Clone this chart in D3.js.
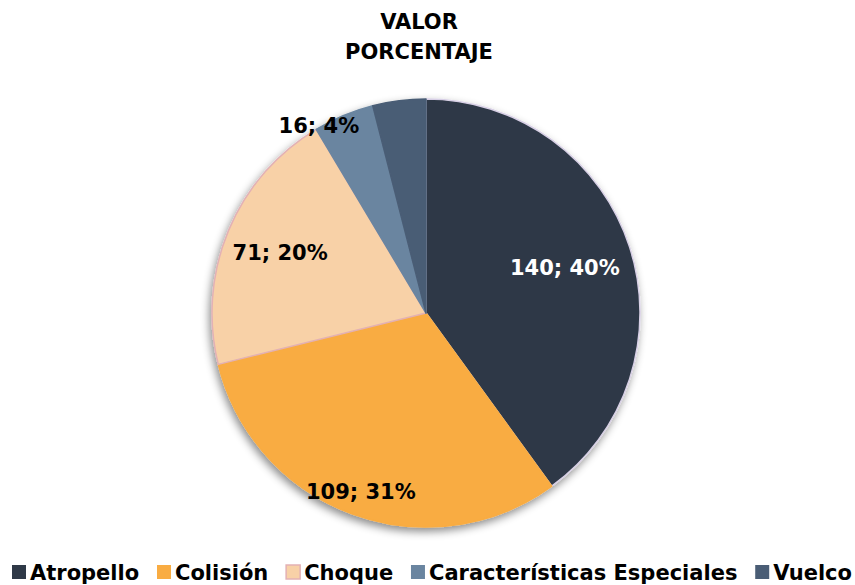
<!DOCTYPE html>
<html>
<head>
<meta charset="utf-8">
<script src="https://cdn.jsdelivr.net/npm/d3@7"></script>
<style>
  body { margin: 0; background: #fff; }
  text { font-family: "DejaVu Sans", Lato, sans-serif; font-weight: bold; }
</style>
</head>
<body>
<div id="chart"></div>
<script>
// Data
const categories = ["Atropello", "Colisión", "Choque", "Características Especiales", "Vuelco"];
const values = [140, 109, 71, 16, 14];
const percents = ["40%", "31%", "20%", "4%", "4%"];
const showLabel = [true, true, true, true, false];

const colors = ["#2f3947", "#f9ac42", "#f8d1a7", "#6a85a0", "#4a5d75"];
const strokes = ["#d8d0e6", "#f9ac42", "#e3b1b4", "#6a85a0", "#4a5d75"];
// label radius and nudges (Excel best fit)
const labelRadius = [146, 190, 158, 203, 150];
const labelNudge = [[0, 0], [0, 0], [0, 0], [-29, 0], [0, 0]];

const width = 855, height = 585;
const cx = 426, cy = 313, r = 214;

const svg = d3.select("#chart").append("svg")
    .attr("width", width)
    .attr("height", height);

const defs = svg.append("defs");
const f = defs.append("filter").attr("id", "shadow")
    .attr("x", "-20%").attr("y", "-20%").attr("width", "140%").attr("height", "140%");
f.append("feDropShadow")
    .attr("dx", -2).attr("dy", 4)
    .attr("stdDeviation", 4)
    .attr("flood-color", "#000")
    .attr("flood-opacity", 0.45);

// Title
svg.append("text").attr("x", 419).attr("y", 29)
    .attr("text-anchor", "middle").style("font-size", "21px")
    .text("VALOR");
svg.append("text").attr("x", 419).attr("y", 59)
    .attr("text-anchor", "middle").style("font-size", "21px")
    .text("PORCENTAJE");

const data = categories.map((c, i) => ({cat: c, value: values[i], i: i}));

const pie = d3.pie().sort(null).value(d => d.value);
const arc = d3.arc().innerRadius(0).outerRadius(r);
const arcs = pie(data);

const g = svg.append("g").attr("transform", `translate(${cx},${cy})`);

g.append("g").attr("filter", "url(#shadow)")
  .selectAll("path")
  .data(arcs)
  .enter().append("path")
    .attr("d", arc)
    .attr("fill", d => colors[d.data.i])
    .attr("stroke", d => strokes[d.data.i])
    .attr("stroke-width", 1.5)
    .attr("stroke-linejoin", "round");

// Labels
g.selectAll(".lbl")
  .data(arcs.filter(d => showLabel[d.data.i]))
  .enter().append("text")
    .attr("class", "lbl")
    .attr("transform", d => {
        const a = (d.startAngle + d.endAngle) / 2;
        const rr = labelRadius[d.data.i];
        const n = labelNudge[d.data.i];
        return `translate(${Math.sin(a) * rr + n[0]},${-Math.cos(a) * rr + n[1]})`;
    })
    .attr("text-anchor", "middle")
    .attr("dy", "0.35em")
    .style("font-size", "21px")
    .attr("fill", d => d.data.i === 0 ? "#fff" : "#000")
    .text(d => `${d.data.value}; ${percents[d.data.i]}`);

// Legend
const legend = svg.append("g");
const items = legend.selectAll(".item")
  .data(data)
  .enter().append("g").attr("class", "item");

items.append("rect")
    .attr("width", 14).attr("height", 14)
    .attr("y", -15)
    .attr("fill", d => colors[d.i])
    .attr("stroke", d => d.i === 2 ? "#e3b1b4" : "none")
    .attr("stroke-width", 1.5);
items.append("text")
    .attr("x", 18)
    .style("font-size", "21px")
    .text(d => d.cat);

let widths = [];
items.each(function() { widths.push(this.getBBox().width); });
const gap = (840 - d3.sum(widths)) / (widths.length - 1);
let x = 12;
items.attr("transform", (d, i) => {
    const t = `translate(${x},580)`;
    x += widths[i] + gap;
    return t;
});
</script>
</body>
</html>
